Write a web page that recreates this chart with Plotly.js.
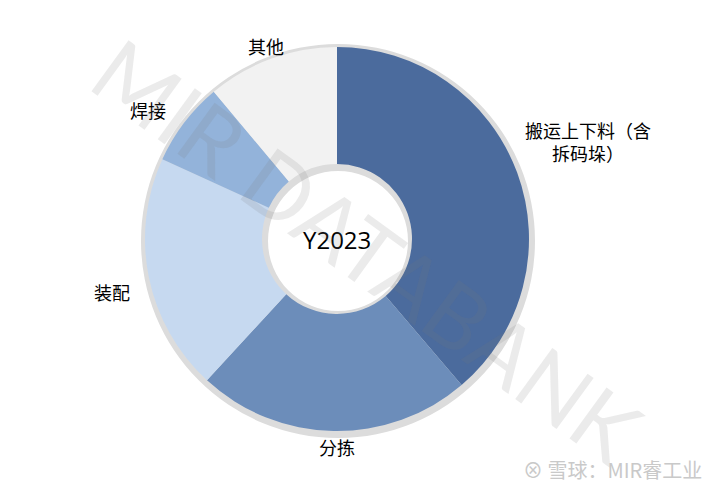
<!DOCTYPE html>
<html>
<head>
<meta charset="utf-8">
<script src="https://cdn.plot.ly/plotly-3.0.1.min.js"></script>
<style>html,body{margin:0;padding:0;background:#fff}#chart{width:704px;height:494px}</style>
</head>
<body>
<div id="chart"></div>
<script>
const categories = ['搬运上下料（含拆码垛）', '分拣', '装配', '焊接', '其他'];
const labelTexts = ['搬运上下料（含<br>拆码垛）', '分拣', '装配', '焊接', '其他'];
const shares = [38.8, 23.1, 20.0, 7.1, 11.1];
const sliceColors = ['#4B6B9D', '#6C8DBA', '#C6D9F0', '#93B3DA', '#F2F2F2'];
const centerLabel = 'Y2023';
const watermark = 'MIR DATABANK';
const credit = '雪球：MIR睿工业';

const W = 704, H = 494;
const cx = 337, cy = 239, R = 192, r = 75;
function dom(rad, dx, dy) {
  dx = dx || 0; dy = dy || 0;
  return {
    x: [(cx + dx - rad) / W, (cx + dx + rad) / W],
    y: [(H - cy - dy - rad) / H, (H - cy - dy + rad) / H]
  };
}

const shadow = {
  type: 'pie', values: [1], labels: ['shadow'], sort: false,
  domain: dom(R + 5, 1, 2), hole: (r - 5) / (R + 5),
  marker: {colors: ['#dcdcdc'], line: {width: 0}},
  textinfo: 'none', hoverinfo: 'skip', showlegend: false
};
const donut = {
  type: 'pie', values: shares, labels: categories, sort: false,
  direction: 'clockwise', rotation: 0,
  domain: dom(R), hole: r / R,
  marker: {colors: sliceColors, line: {width: 0}},
  textinfo: 'none', hoverinfo: 'label+percent', showlegend: false
};

const labelPos = [[588, 141], [337, 447], [112, 292], [148, 110], [266, 46]];
const font = 'Noto Sans CJK SC, Microsoft YaHei, sans-serif';
const annotations = labelTexts.map((t, i) => ({
  text: t, xref: 'paper', yref: 'paper',
  x: labelPos[i][0] / W, y: 1 - labelPos[i][1] / H,
  xanchor: 'center', yanchor: 'middle',
  showarrow: false, align: 'center',
  font: {family: font, size: 18, color: '#000'}
}));
annotations.push({
  text: centerLabel, xref: 'paper', yref: 'paper', x: 337 / W, y: 1 - 240 / H,
  xanchor: 'center', yanchor: 'middle',
  showarrow: false, font: {family: 'Open Sans, Noto Sans, sans-serif', size: 24, color: '#000'}
});
annotations.push({
  text: watermark, xref: 'paper', yref: 'paper', x: 368 / W, y: 1 - 250 / H,
  xanchor: 'center', yanchor: 'middle',
  showarrow: false, textangle: 36,
  font: {family: 'Lato, Open Sans, sans-serif', size: 88, weight: 400, color: 'rgba(120,120,120,0.15)'}
});
annotations.push({
  text: '⊗ ' + credit, xref: 'paper', yref: 'paper', x: 612 / W, y: 1 - 469 / H,
  xanchor: 'center', yanchor: 'middle',
  showarrow: false,
  font: {family: font, size: 20, color: '#c9c9c9'}
});

Plotly.newPlot('chart', [shadow, donut], {
  width: W, height: H,
  margin: {l: 0, r: 0, t: 0, b: 0},
  paper_bgcolor: '#fff', plot_bgcolor: '#fff',
  showlegend: false,
  annotations: annotations
}, {displayModeBar: false, staticPlot: true});
</script>
</body>
</html>
